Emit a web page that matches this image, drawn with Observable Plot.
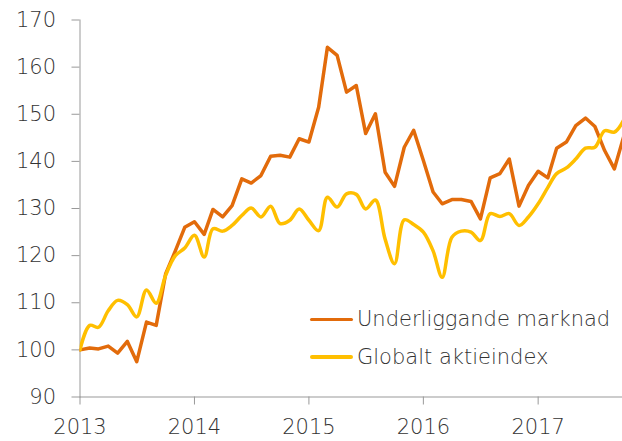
<!DOCTYPE html>
<html><head><meta charset="utf-8">
<script src="https://cdn.jsdelivr.net/npm/d3@7"></script>
<script src="https://cdn.jsdelivr.net/npm/@observablehq/plot@0.6"></script>
<style>
body{margin:0;background:#fff;}
#wrap{position:relative;width:622px;height:441px;font-family:"DejaVu Sans",sans-serif;}
#legend{position:absolute;left:310px;top:300.5px;font-size:21px;color:#333;font-weight:200;}
.item{display:flex;align-items:center;height:37.5px;}
.sw{width:43px;height:3.5px;border-radius:2px;margin-right:4px;}
</style></head>
<body><div id="wrap"><div id="legend"></div></div>
<script>
const seriesNames = ["Underliggande marknad", "Globalt aktieindex"];
const seriesColors = ["#e26b0b", "#ffbf00"];
const startMonth = "2013-01";
const endDate = "2017-09-27";
// monthly index values, Jan 2013 onward
const underliggande = [100, 100.4, 100.2, 100.8, 99.3, 101.8, 97.5, 105.9, 105.2, 116.1, 121.0, 126.0,
  127.2, 124.5, 129.8, 128.2, 130.6, 136.3, 135.4, 137.0, 141.1, 141.3, 140.9, 144.8,
  144.1, 151.5, 164.2, 162.5, 154.7, 156.1, 145.9, 150.1, 137.7, 134.7, 143.0, 146.6,
  140.2, 133.5, 131.0, 131.9, 131.9, 131.5, 127.8, 136.5, 137.4, 140.5, 130.5, 134.9,
  137.9, 136.5, 142.8, 144.1, 147.6, 149.2, 147.4, 142.3, 138.4, 145.3];
const globalt = [100, 105.2, 104.8, 108.3, 110.5, 109.6, 107.0, 112.7, 109.9, 115.8, 120.0, 121.6,
  124.3, 119.7, 125.7, 125.2, 126.4, 128.5, 130.1, 128.2, 130.5, 126.8, 127.5, 129.9,
  127.5, 125.3, 132.4, 130.3, 133.1, 133.0, 129.9, 131.8, 123.5, 118.3, 127.6, 126.6,
  125.0, 121.0, 115.4, 123.9, 125.2, 125.0, 123.2, 128.9, 128.3, 128.9, 126.4, 128.2,
  131.0, 134.5, 137.4, 138.6, 140.5, 142.8, 143.0, 146.5, 146.2, 148.8];
const yTicks = [90, 100, 110, 120, 130, 140, 150, 160, 170];
const xTickYears = ["2013", "2014", "2015", "2016", "2017"];

const t0 = new Date(startMonth + "-01T00:00:00Z");
const months = underliggande.map((_, i) => d3.utcMonth.offset(t0, i));
const rows = [];
[underliggande, globalt].forEach((arr, s) => arr.forEach((v, i) => rows.push({date: months[i], value: v, series: seriesNames[s]})));
const xTicks = xTickYears.map(y => new Date(y + "-01-01T00:00:00Z"));

const chart = Plot.plot({
  width: 622, height: 441,
  marginLeft: 79.5, marginRight: 0, marginTop: 19.5, marginBottom: 44.5,
  style: {fontFamily: '"DejaVu Sans", sans-serif', fontSize: "21px", fontWeight: 200, color: "#333", background: "#fff"},
  x: {type: "utc", domain: [t0, new Date(endDate + "T00:00:00Z")]},
  y: {domain: [90, 170]},
  marks: [
    Plot.axisY({ticks: yTicks, tickSize: 8, tickPadding: 16, stroke: "#999", fill: "#333", label: null}),
    Plot.axisX({ticks: xTicks, tickFormat: d3.utcFormat("%Y"), tickSize: 8, tickPadding: 14, stroke: "#999", fill: "#333", label: null}),
    Plot.frame({anchor: "left", stroke: "#999"}),
    Plot.frame({anchor: "bottom", stroke: "#999"}),
    Plot.line(rows.filter(d => d.series === seriesNames[0]), {x: "date", y: "value", stroke: seriesColors[0], strokeWidth: 3.5, clip: true}),
    Plot.line(rows.filter(d => d.series === seriesNames[1]), {x: "date", y: "value", stroke: seriesColors[1], strokeWidth: 3.5, curve: "catmull-rom", clip: true})
  ]
});
document.getElementById("wrap").prepend(chart);
const leg = document.getElementById("legend");
seriesNames.forEach((n, i) => {
  const it = document.createElement("div"); it.className = "item";
  const sw = document.createElement("div"); sw.className = "sw"; sw.style.background = seriesColors[i];
  const tx = document.createElement("span"); tx.textContent = n;
  it.append(sw, tx); leg.append(it);
});
</script>
</body></html>
